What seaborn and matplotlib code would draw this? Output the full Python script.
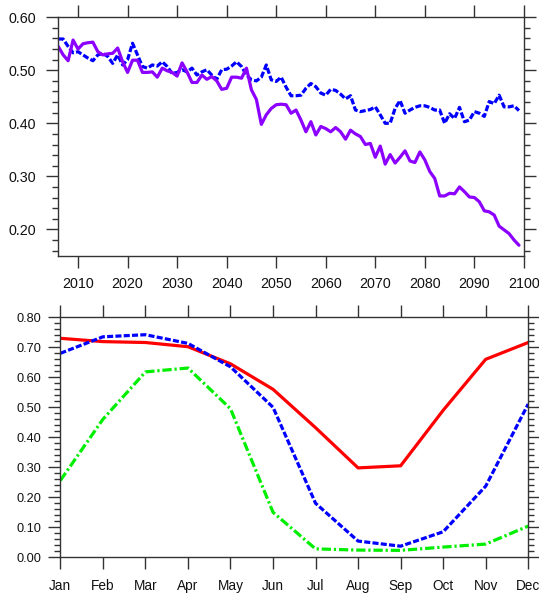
import numpy as np
import pandas as pd
import matplotlib
matplotlib.use("Agg")
import matplotlib.pyplot as plt
from matplotlib.ticker import MultipleLocator, FixedLocator
import seaborn as sns

# ---- annual series, 2006-2099 ----
years = list(range(2006, 2100))

blue_annual = [
    0.559, 0.559, 0.545, 0.533, 0.535, 0.529, 0.523, 0.518, 0.529, 0.532,
    0.526, 0.513, 0.529, 0.510, 0.520, 0.551, 0.529, 0.507, 0.504, 0.510,
    0.508, 0.516, 0.507, 0.494, 0.496, 0.501, 0.497, 0.504, 0.491, 0.497,
    0.501, 0.491, 0.483, 0.501, 0.502, 0.508, 0.516, 0.507, 0.491, 0.482,
    0.480, 0.487, 0.510, 0.482, 0.479, 0.487, 0.468, 0.452, 0.452, 0.453,
    0.466, 0.475, 0.469, 0.457, 0.453, 0.464, 0.462, 0.455, 0.446, 0.452,
    0.425, 0.422, 0.424, 0.426, 0.431, 0.416, 0.400, 0.400, 0.428, 0.443,
    0.419, 0.425, 0.430, 0.433, 0.433, 0.430, 0.425, 0.425, 0.400, 0.418,
    0.409, 0.430, 0.403, 0.406, 0.422, 0.419, 0.413, 0.441, 0.437, 0.453,
    0.431, 0.431, 0.433, 0.424,
]

purple_annual = [
    0.545, 0.529, 0.518, 0.557, 0.540, 0.550, 0.552, 0.553, 0.535, 0.529,
    0.531, 0.532, 0.542, 0.516, 0.496, 0.519, 0.519, 0.496, 0.496, 0.497,
    0.487, 0.504, 0.499, 0.496, 0.489, 0.514, 0.497, 0.477, 0.477, 0.491,
    0.483, 0.488, 0.480, 0.464, 0.466, 0.487, 0.487, 0.485, 0.504, 0.463,
    0.445, 0.398, 0.416, 0.428, 0.435, 0.436, 0.435, 0.419, 0.425, 0.406,
    0.384, 0.403, 0.378, 0.394, 0.390, 0.384, 0.392, 0.384, 0.370, 0.387,
    0.380, 0.375, 0.360, 0.362, 0.336, 0.357, 0.323, 0.341, 0.325, 0.336,
    0.348, 0.329, 0.326, 0.346, 0.331, 0.309, 0.296, 0.263, 0.263, 0.268,
    0.267, 0.280, 0.271, 0.261, 0.260, 0.252, 0.235, 0.233, 0.227, 0.206,
    0.199, 0.192, 0.180, 0.170,
]

# ---- monthly climatology ----
months = ["Jan", "Feb", "Mar", "Apr", "May", "Jun",
          "Jul", "Aug", "Sep", "Oct", "Nov", "Dec"]
red_monthly = [0.730, 0.719, 0.716, 0.702, 0.645, 0.560,
               0.432, 0.298, 0.305, 0.490, 0.660, 0.716]
blue_monthly = [0.680, 0.735, 0.742, 0.713, 0.635, 0.500,
                0.180, 0.054, 0.037, 0.085, 0.237, 0.511]
green_monthly = [0.256, 0.460, 0.618, 0.631, 0.495, 0.150,
                 0.028, 0.024, 0.023, 0.034, 0.044, 0.104]

year_ticks = [2010, 2020, 2030, 2040, 2050, 2060, 2070, 2080, 2090, 2100]
val_ticks_top = [0.20, 0.30, 0.40, 0.50, 0.60]
val_ticks_bot = [0.00, 0.10, 0.20, 0.30, 0.40, 0.50, 0.60, 0.70, 0.80]

annual = pd.DataFrame({"year": years, "blue": blue_annual, "purple": purple_annual})
monthly = pd.DataFrame({"m": np.arange(len(months)), "red": red_monthly,
                        "blue": blue_monthly, "green": green_monthly})

sns.set_style("ticks")
plt.rcParams["font.family"] = ["Liberation Sans", "DejaVu Sans"]

fig = plt.figure(figsize=(5.39, 5.95), dpi=100)
ax1 = fig.add_axes([0.108, 0.570, 0.864, 0.401])
ax2 = fig.add_axes([0.112, 0.0634, 0.868, 0.4033])

LW = 2.3
BLUE = "#0000ff"
PURPLE = "#8c00ff"
RED = "#ff0000"
GREEN = "#00ee00"
dash = (0, (1.9, 0.7))
dashdot = (0, (2.9, 0.9, 0.7, 0.9))

# top: annual series
sns.lineplot(data=annual, x="year", y="blue", ax=ax1, color=BLUE, lw=LW,
             linestyle=dash)
sns.lineplot(data=annual, x="year", y="purple", ax=ax1, color=PURPLE, lw=LW)

# bottom: monthly cycle
sns.lineplot(data=monthly, x="m", y="red", ax=ax2, color=RED, lw=LW)
sns.lineplot(data=monthly, x="m", y="blue", ax=ax2, color=BLUE, lw=LW,
             linestyle=dash)
sns.lineplot(data=monthly, x="m", y="green", ax=ax2, color=GREEN, lw=LW,
             linestyle=dashdot)

FRAME = "#333333"
for ax in (ax1, ax2):
    ax.set_xlabel("")
    ax.set_ylabel("")
    for sp in ax.spines.values():
        sp.set_visible(True)
        sp.set_color(FRAME)
        sp.set_linewidth(1.0)
    ax.tick_params(which="both", direction="out", color=FRAME, width=1.0,
                   top=True, right=True, labelcolor="#111111")
    ax.tick_params(which="major", length=8.4)
    ax.tick_params(which="minor", length=4.3)
    ax.yaxis.set_minor_locator(MultipleLocator(0.02))

ax1.set_xlim(2006, 2100)
ax1.set_ylim(0.15, 0.60)
ax1.xaxis.set_major_locator(FixedLocator(year_ticks))
ax1.set_xticks(year_ticks)
ax1.set_xticklabels([str(y) for y in year_ticks])
ax1.set_yticks(val_ticks_top)
ax1.set_yticklabels([f"{v:.2f}" for v in val_ticks_top])
ax1.tick_params(axis="y", labelsize=10.3, pad=7.5)
ax1.tick_params(axis="x", labelsize=10.3, pad=7)

ax2.set_xlim(0, 11)
ax2.set_ylim(0.0, 0.80)
ax2.set_xticks(np.arange(len(months)))
ax2.set_xticklabels(months)
ax2.set_yticks(val_ticks_bot)
ax2.set_yticklabels([f"{v:.2f}" for v in val_ticks_bot])
ax2.tick_params(axis="y", labelsize=9.2, pad=5.5)
ax2.tick_params(axis="x", labelsize=9.8, pad=7.5)

fig.savefig("out.png", dpi=100)
